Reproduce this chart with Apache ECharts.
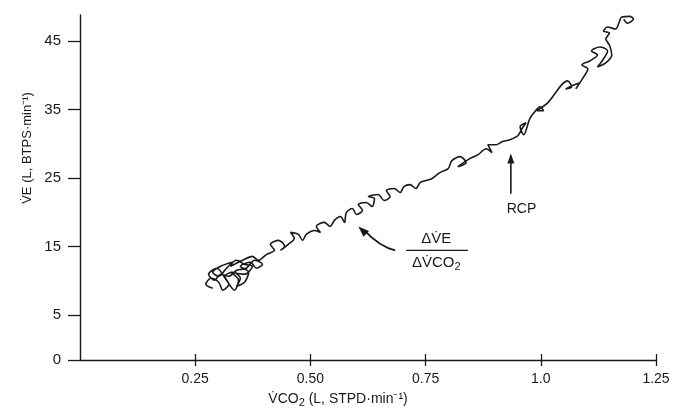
<!DOCTYPE html>
<html>
<head>
<meta charset="utf-8">
<script src="https://cdn.jsdelivr.net/npm/echarts@6/dist/echarts.min.js"></script>
<style>
html,body{margin:0;padding:0;background:#fff;}
#chart{width:673px;height:412px;}
</style>
</head>
<body>
<div id="chart"></div>
<script>
// VCO2 (L, STPD/min) values along the recorded trace
var vco2 = [0.288,0.273,0.284,0.301,0.310,0.323,0.314,0.331,0.348,0.340,0.357,0.366,0.348,0.370,0.383,0.396,0.379,0.361,0.340,0.323,
0.305,0.292,0.279,0.297,0.318,0.335,0.344,0.327,0.357,0.374,0.357,0.340,0.318,0.301,0.288,0.305,0.331,
0.327,0.353,0.374,0.387,0.405,0.422,0.413,0.431,0.444,0.435,0.452,0.465,0.457,0.474,0.483,0.491,0.509,0.522,0.513,
0.530,0.543,0.552,0.565,0.574,0.578,0.591,0.600,0.613,0.604,0.621,0.634,0.639,0.626,0.647,0.660,0.673,0.665,0.682,0.695,
0.703,0.716,0.729,0.738,0.751,0.764,0.781,0.799,0.807,0.825,0.838,0.820,0.846,0.864,0.881,0.894,0.885,0.903,0.916,0.933,
0.950,0.959,0.968,0.955,0.963,0.976,0.985,0.998,1.006,0.991,1.015,1.032,1.045,1.058,1.067,1.054,1.071,1.084,1.076,1.093,
1.102,1.089,1.106,1.123,1.110,1.128,1.145,1.136,1.123,1.141,1.154,1.149,1.141,1.149,1.136,1.145,1.162,1.171,1.175,1.193,
1.201,1.188,1.180];
// VE (L, BTPS/min) values along the recorded trace
var ve = [8.93,9.51,10.38,9.80,8.64,9.51,10.67,11.25,10.38,9.22,9.80,11.25,12.13,12.71,11.84,12.42,13.00,11.84,11.55,10.67,
10.96,10.09,10.96,11.84,10.09,8.64,10.09,11.25,10.96,12.13,12.42,13.00,11.84,10.67,11.25,12.13,12.71,
12.13,13.00,13.58,13.00,13.87,14.45,15.33,15.91,15.04,14.45,15.33,16.20,17.07,16.78,15.91,16.78,17.36,17.07,17.95,
18.53,17.95,18.82,19.40,18.53,19.98,20.56,19.69,20.27,21.15,21.44,20.85,22.02,22.31,22.60,21.73,22.31,23.18,23.47,22.89,
23.76,24.05,23.47,24.35,24.64,24.93,25.80,26.38,27.55,28.13,27.25,26.67,27.84,28.42,29.29,28.71,29.87,29.87,30.31,30.60,
31.18,32.20,33.07,32.49,31.33,33.65,34.53,35.40,34.82,34.82,35.98,37.44,38.60,39.18,38.31,38.02,38.60,38.89,38.02,39.76,
40.93,41.51,42.09,42.96,43.55,44.13,43.55,42.38,41.22,41.80,42.96,44.42,45.29,46.16,46.45,47.04,46.75,47.91,48.49,48.60,
48.20,47.60,48.20];

var xTickValues = [0.25, 0.5, 0.75, 1.0, 1.25];
var xTickLabels = ['0.25', '0.50', '0.75', '1.0', '1.25'];
var yOrigin = -1.55;           // the drawn origin (labelled 0) of the broken y axis
var yTickValues = [yOrigin, 5, 15, 25, 35, 45];
var yTickLabels = ['0', '5', '15', '25', '35', '45'];

var xName = 'V\u0307CO{sub|2} (L, STPD\u00B7min\u207B\u00B9)';
var yName = 'V\u0307E (L, BTPS\u00B7min\u207B\u00B9)';
var rcpLabel = 'RCP';
var fracTop = '\u0394V\u0307E';
var fracBottom = '\u0394V\u0307CO{sub|2}';

var FONT = 'Liberation Sans, Arial, sans-serif';
var INK = '#1a1a1a';

var chart = echarts.init(document.getElementById('chart'), null, {renderer: 'canvas'});

function lbl(values, labels) {
  return function (v) {
    for (var i = 0; i < values.length; i++) {
      if (Math.abs(values[i] - v) < 1e-6) return labels[i];
    }
    return '';
  };
}

var pts = vco2.map(function (x, i) { return [x, ve[i]]; });

chart.setOption({
  animation: false,
  backgroundColor: '#fff',
  grid: {left: 80, right: 17, top: 15, bottom: 52, outerBoundsMode: 'none'},
  xAxis: [{
    type: 'value', min: 0, max: 1.25,
    axisLine: {show: true, onZero: false, lineStyle: {color: INK, width: 1.4}},
    axisTick: {show: true, customValues: xTickValues, length: 6, lineStyle: {color: INK, width: 1.3}},
    axisLabel: {show: true, customValues: xTickValues, formatter: lbl(xTickValues, xTickLabels),
      fontFamily: FONT, fontSize: 14, color: INK, margin: 12},
    splitLine: {show: false}
  }, {
    type: 'value', min: 0, max: 1.25, position: 'bottom',
    axisLine: {show: false, onZero: false},
    axisTick: {show: true, inside: true, customValues: xTickValues, length: 6, lineStyle: {color: INK, width: 1.3}},
    axisLabel: {show: false},
    splitLine: {show: false}
  }],
  yAxis: {
    type: 'value', min: yOrigin, max: 48.8,
    axisLine: {show: true, onZero: false, lineStyle: {color: INK, width: 1.4}},
    axisTick: {show: true, customValues: yTickValues, length: 12, lineStyle: {color: INK, width: 1.3}},
    axisLabel: {show: true, customValues: yTickValues, formatter: lbl(yTickValues, yTickLabels),
      fontFamily: FONT, fontSize: 15, color: INK, margin: 19},
    splitLine: {show: false}
  },
  series: [{
    type: 'line',
    data: pts,
    showSymbol: false,
    smooth: 0.3,
    clip: false,
    lineStyle: {color: INK, width: 1.6},
    z: 3
  }]
});

function px(x, y) { return chart.convertToPixel({xAxisIndex: 0, yAxisIndex: 0}, [x, y]); }

// annotation anchors (data coordinates)
var rcpArrowBase = px(0.935, 22.7);
var rcpArrowTip = px(0.935, 28.6);
var rcpText = px(0.958, 20.4);
var fracLeft = px(0.708, 14.45);
var fracRight = px(0.842, 14.45);
var fracTopPos = px(0.773, 16.1);
var fracBotPos = px(0.773, 12.6);
var cTail = px(0.684, 14.45);
var cCtrl = px(0.650, 15.0);
var cHead = px(0.604, 17.95);
var xNamePos = px(0.56, -7.0);

function headPoly(tip, from, len, half) {
  var dx = tip[0] - from[0], dy = tip[1] - from[1];
  var d = Math.sqrt(dx * dx + dy * dy);
  var ux = dx / d, uy = dy / d;
  var bx = tip[0] - ux * len, by = tip[1] - uy * len;
  return [[tip[0], tip[1]], [bx - uy * half, by + ux * half], [bx + uy * half, by - ux * half]];
}

var subRich = {sub: {fontSize: 11, fontFamily: FONT, fill: INK, padding: [7, 0, 0, 0]}};

chart.setOption({
  graphic: [
    {type: 'text', x: 27, y: 148, rotation: Math.PI / 2,
      style: {text: yName, font: '13px ' + FONT, fill: INK, align: 'center', verticalAlign: 'middle'}},
    {type: 'text', x: xNamePos[0], y: 399,
      style: {text: xName, font: '14px ' + FONT, fill: INK, align: 'center', verticalAlign: 'middle', rich: subRich}},
    {type: 'line', shape: {x1: rcpArrowBase[0], y1: rcpArrowBase[1], x2: rcpArrowTip[0], y2: rcpArrowTip[1] + 8},
      style: {stroke: INK, lineWidth: 1.6}},
    {type: 'polygon', shape: {points: headPoly(rcpArrowTip, rcpArrowBase, 10, 3.5)}, style: {fill: INK}},
    {type: 'text', x: rcpText[0], y: rcpText[1],
      style: {text: rcpLabel, font: '14px ' + FONT, fill: INK, align: 'center', verticalAlign: 'middle'}},
    {type: 'text', x: fracTopPos[0], y: fracTopPos[1],
      style: {text: fracTop, font: '15px ' + FONT, fill: INK, align: 'center', verticalAlign: 'middle'}},
    {type: 'line', shape: {x1: fracLeft[0], y1: fracLeft[1], x2: fracRight[0], y2: fracRight[1]},
      style: {stroke: INK, lineWidth: 1.2}},
    {type: 'text', x: fracBotPos[0], y: fracBotPos[1],
      style: {text: fracBottom, font: '15px ' + FONT, fill: INK, align: 'center', verticalAlign: 'middle', rich: subRich}},
    {type: 'bezierCurve', shape: {x1: cTail[0], y1: cTail[1], cpx1: cCtrl[0], cpy1: cCtrl[1], x2: cHead[0] + 6, y2: cHead[1] + 4},
      style: {stroke: INK, lineWidth: 1.8, fill: null}},
    {type: 'polygon', shape: {points: headPoly(cHead, cCtrl, 11, 4)}, style: {fill: INK}}
  ]
});
</script>
</body>
</html>
